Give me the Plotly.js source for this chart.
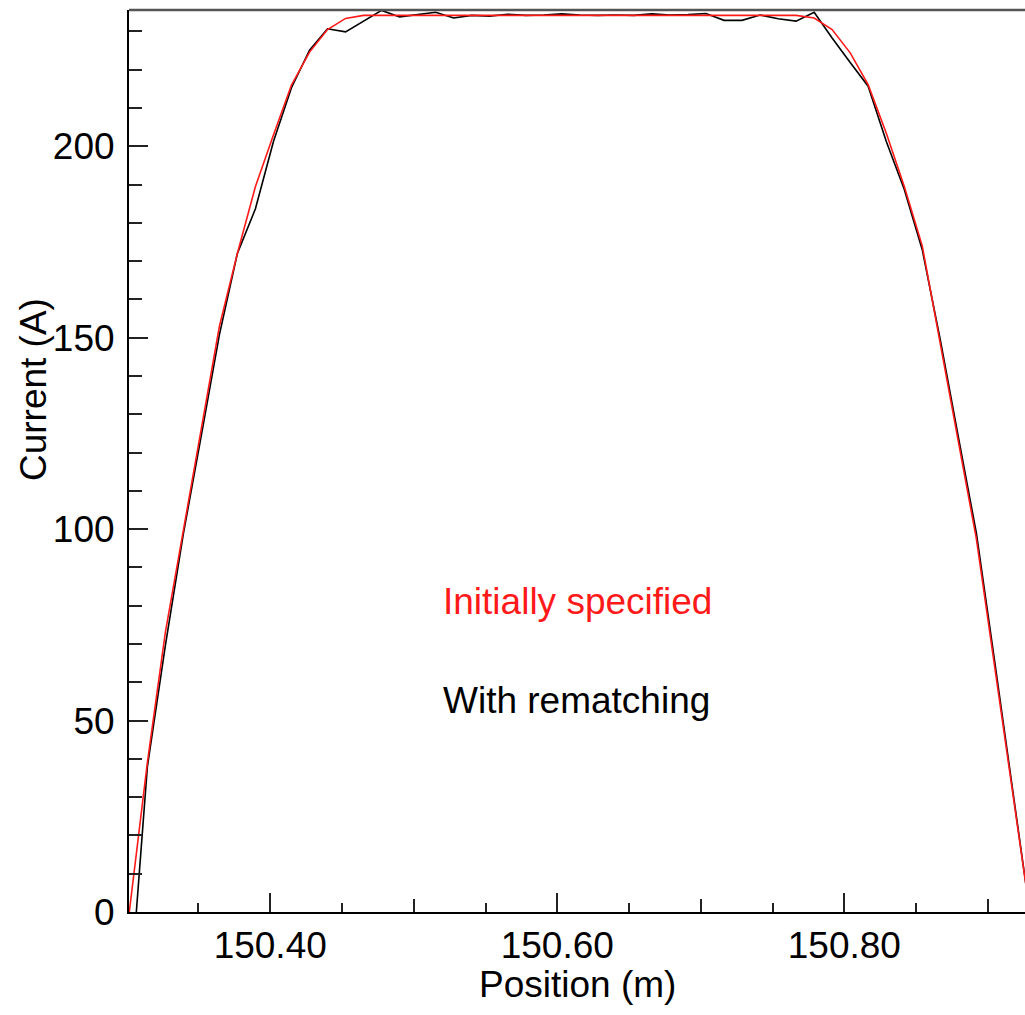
<!DOCTYPE html>
<html>
<head>
<meta charset="utf-8">
<script src="https://cdn.plot.ly/plotly-3.0.1.min.js"></script>
<style>html,body{margin:0;padding:0;background:#fff;}#chart{width:1025px;height:1015px;}</style>
</head>
<body>
<div id="chart"></div>
<script>
// Position grid (m) for both profiles
const positions = [150.3018,150.3144,150.3269,150.3395,150.3520,150.3646,150.3771,150.3897,150.4023,150.4148,
  150.4274,150.4399,150.4525,150.4650,150.4776,150.4902,150.5027,150.5153,150.5278,150.5404,
  150.5529,150.5655,150.5781,150.5906,150.6032,150.6157,150.6283,150.6408,150.6534,150.6660,
  150.6785,150.6911,150.7036,150.7162,150.7287,150.7413,150.7539,150.7664,150.7790,150.7915,
  150.8041,150.8166,150.8292,150.8418,150.8543,150.8669,150.8794,150.8920,150.9045,150.9171,150.9296];

// "Initially specified" current (A)
const initialCurrent = [0,39,73,100,126.5,153,172,189.5,203,216,
  224.6,230.5,233.4,234.2,234.2,234.2,234.2,234.2,234.2,234.2,
  234.2,234.2,234.2,234.2,234.2,234.2,234.2,234.2,234.2,234.2,
  234.2,234.2,234.2,234.2,234.2,234.2,234.2,234.2,233.5,230.5,
  224.4,216.1,203.5,189.5,174,148,123,97.5,65,31,-1];

// "With rematching" current (A); first point starts slightly later
const rematchPositions = [150.3067].concat(positions.slice(1));
const rematchCurrent = [0,37.9,69.5,98.8,124.5,150.8,172,183.7,201.3,215.3,
  225.1,230.7,229.9,232.7,235.5,233.8,234.4,235.0,233.5,234.2,
  234.0,234.5,234.2,234.3,234.6,234.3,234.2,234.3,234.2,234.6,
  234.3,234.4,234.7,232.9,232.9,234.3,233.3,232.7,235.0,228.3,
  221.9,215.7,201.3,188.7,173.0,149.4,124.2,99.0,66.2,31.9,-1];

const xMajorTicks = [150.40, 150.60, 150.80];
const xMajorLabels = ["150.40", "150.60", "150.80"];
const yTicks = [0, 50, 100, 150, 200];
const yLabels = ["0", "50", "100", "150", "200"];

const FONT = "Liberation Sans, Arial, sans-serif";
const FS = 37;
const xRange = [150.3016, 150.9259];
const yRange = [0, 235.6];

const traces = [
  {x: rematchPositions, y: rematchCurrent, type: 'scatter', mode: 'lines',
   line: {color: '#000000', width: 1.6}, hoverinfo: 'skip', showlegend: false},
  {x: positions, y: initialCurrent, type: 'scatter', mode: 'lines',
   line: {color: '#ff1a1a', width: 1.6}, hoverinfo: 'skip', showlegend: false},
  // invisible trace on an overlaid axis to carry the 0.1 m medium ticks
  {x: [xRange[0]], y: [0], xaxis: 'x2', type: 'scatter', mode: 'markers',
   marker: {opacity: 0}, hoverinfo: 'skip', showlegend: false}
];

const layout = {
  width: 1025, height: 1015,
  margin: {l: 129, r: 0, t: 10, b: 103, pad: 0},
  paper_bgcolor: '#ffffff', plot_bgcolor: '#ffffff',
  font: {family: FONT, size: FS, color: '#000000'},
  showlegend: false,
  xaxis: {
    range: xRange, showgrid: false, zeroline: false,
    showline: true, linecolor: '#000000', linewidth: 2,
    tickmode: 'array', tickvals: xMajorTicks, ticktext: xMajorLabels,
    ticks: 'inside', ticklen: 19, tickwidth: 2, tickcolor: '#222222',
    tickfont: {family: FONT, size: FS, color: '#000000'},
    ticklabelstandoff: 0,
    minor: {dtick: 0.05, tick0: 150.30, ticks: 'inside', ticklen: 9, tickwidth: 2, tickcolor: '#222222', showgrid: false}
  },
  xaxis2: {
    range: xRange, overlaying: 'x', anchor: 'y', side: 'bottom',
    showgrid: false, zeroline: false, showline: false, showticklabels: false,
    tickmode: 'linear', tick0: 150.30, dtick: 0.2,
    ticks: 'inside', ticklen: 13, tickwidth: 2, tickcolor: '#222222'
  },
  yaxis: {
    range: yRange, showgrid: false, zeroline: false,
    showline: true, linecolor: '#000000', linewidth: 2,
    tickmode: 'array', tickvals: yTicks, ticktext: yLabels,
    ticks: 'inside', ticklen: 19, tickwidth: 2, tickcolor: '#222222',
    tickfont: {family: FONT, size: FS, color: '#000000'},
    ticklabelstandoff: 5,
    minor: {dtick: 10, tick0: 0, ticks: 'inside', ticklen: 13, tickwidth: 2, tickcolor: '#222222', showgrid: false}
  },
  shapes: [
    {type: 'line', xref: 'paper', yref: 'paper', x0: 0, x1: 1, y0: 1, y1: 1,
     line: {color: '#555555', width: 2.5}}
  ],
  annotations: [
    {text: 'Initially specified', xref: 'paper', yref: 'paper', x: 0.3482, y: 0.3437,
     xanchor: 'left', yanchor: 'middle', showarrow: false,
     font: {family: FONT, size: FS, color: '#ff1a1a'}},
    {text: 'With rematching', xref: 'paper', yref: 'paper', x: 0.3482, y: 0.235,
     xanchor: 'left', yanchor: 'middle', showarrow: false,
     font: {family: FONT, size: FS, color: '#000000'}},
    {text: 'Position (m)', xref: 'paper', yref: 'paper', x: 0.501, y: -0.0809,
     xanchor: 'center', yanchor: 'middle', showarrow: false,
     font: {family: FONT, size: FS, color: '#000000'}},
    {text: 'Current (A)', xref: 'paper', yref: 'paper', x: -0.1071, y: 0.5787,
     xanchor: 'center', yanchor: 'middle', showarrow: false, textangle: -90,
     font: {family: FONT, size: FS, color: '#000000'}}
  ]
};

Plotly.newPlot('chart', traces, layout, {displayModeBar: false, staticPlot: true});
</script>
</body>
</html>
